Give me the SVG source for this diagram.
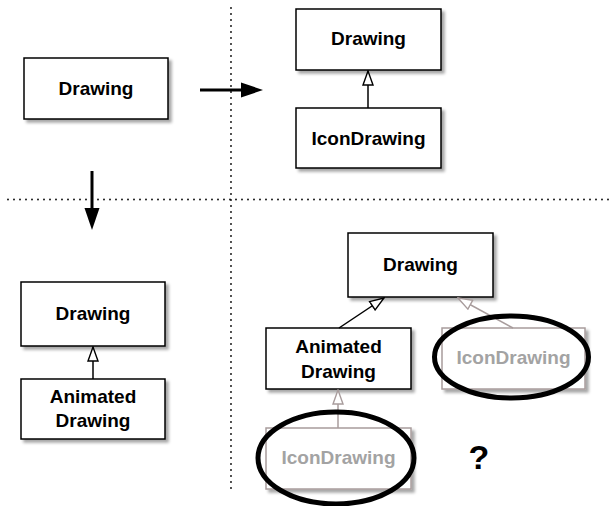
<svg xmlns="http://www.w3.org/2000/svg" width="609" height="506" viewBox="0 0 609 506">
<style>
.box{fill:#fff;stroke:#000;stroke-width:1.5;filter:url(#sh)}
.gbox{fill:#fff;stroke:#a89c9c;stroke-width:1.5;filter:url(#sh)}
.t{font-family:"Liberation Sans",Arial,Helvetica,sans-serif;font-weight:bold;font-size:19px;fill:#000;text-anchor:middle}
.gt{fill:#a3a3a3}
.dot{stroke:#000;stroke-width:1.8;stroke-linecap:round;stroke-dasharray:0 6;fill:none}
.inh{stroke:#000;stroke-width:1.5;fill:none;marker-end:url(#tri)}
.ginh{stroke:#a89c9c;stroke-width:1.5;fill:none;marker-end:url(#gtri)}
.big{stroke:#000;stroke-width:3;fill:none}
.ring{fill:none;stroke:#000;stroke-width:5}
</style>
<defs>
<filter id="sh" x="-10%" y="-10%" width="130%" height="140%">
<feDropShadow dx="3" dy="3" stdDeviation="1.5" flood-color="#000" flood-opacity="0.35"/>
</filter>
<marker id="tri" viewBox="0 0 16 12" refX="15" refY="6" markerWidth="16" markerHeight="12" markerUnits="userSpaceOnUse" orient="auto">
<path d="M15,6 L1,1 L1,11 Z" fill="#fff" stroke="#000" stroke-width="1.4"/>
</marker>
<marker id="gtri" viewBox="0 0 16 12" refX="15" refY="6" markerWidth="16" markerHeight="12" markerUnits="userSpaceOnUse" orient="auto">
<path d="M15,6 L1,1 L1,11 Z" fill="#fff" stroke="#a89c9c" stroke-width="1.4"/>
</marker>
</defs>
<g id="dividers">
<line class="dot" x1="231" y1="8" x2="231" y2="490"/>
<line class="dot" x1="8" y1="199.5" x2="609" y2="199.5"/>
</g>
<g id="n1"><rect class="box" x="24" y="58" width="144" height="61"/><text class="t" x="96" y="94.5">Drawing</text></g>
<g id="n2"><rect class="box" x="296" y="9" width="145" height="61"/><text class="t" x="368.5" y="45">Drawing</text></g>
<g id="n3"><rect class="box" x="296" y="108" width="145" height="60"/><text class="t" x="368.5" y="144.5">IconDrawing</text></g>
<g id="n4"><rect class="box" x="21" y="282" width="144" height="64"/><text class="t" x="93" y="320">Drawing</text></g>
<g id="n5"><rect class="box" x="21" y="379" width="144" height="60"/><text class="t" x="93" y="403">Animated</text><text class="t" x="93" y="427">Drawing</text></g>
<g id="n6"><rect class="box" x="348" y="233" width="145" height="64"/><text class="t" x="420.5" y="271">Drawing</text></g>
<g id="n7"><rect class="box" x="266" y="328" width="145" height="61"/><text class="t" x="338.5" y="353">Animated</text><text class="t" x="338.5" y="378">Drawing</text></g>
<g id="n8"><rect class="gbox" x="442" y="328" width="143" height="61"/><text class="t gt" x="513.5" y="364">IconDrawing</text></g>
<g id="n9"><rect class="gbox" x="266" y="428" width="145" height="61"/><text class="t gt" x="338.5" y="464">IconDrawing</text></g>
<g id="connectors">
<line class="big" x1="200" y1="90" x2="243" y2="90"/>
<path d="M241,82.5 L263,90 L241,97.5 Z" fill="#000"/>
<line class="big" x1="92" y1="171" x2="92" y2="210"/>
<path d="M84.5,208 L92,230 L99.5,208 Z" fill="#000"/>
<line class="inh" x1="368" y1="108" x2="368" y2="71"/>
<line class="inh" x1="93" y1="379" x2="93" y2="347"/>
<line class="inh" x1="339" y1="328" x2="384" y2="298"/>
<line class="ginh" x1="513" y1="328" x2="458" y2="298"/>
<line class="ginh" x1="338" y1="428" x2="338" y2="390"/>
</g>
<g id="marks">
<ellipse class="ring" cx="511.5" cy="357" rx="77" ry="41"/>
<ellipse class="ring" cx="336" cy="458" rx="78" ry="46"/>
<text class="t" x="479" y="469" style="font-size:34px">?</text>
</g>
</svg>
